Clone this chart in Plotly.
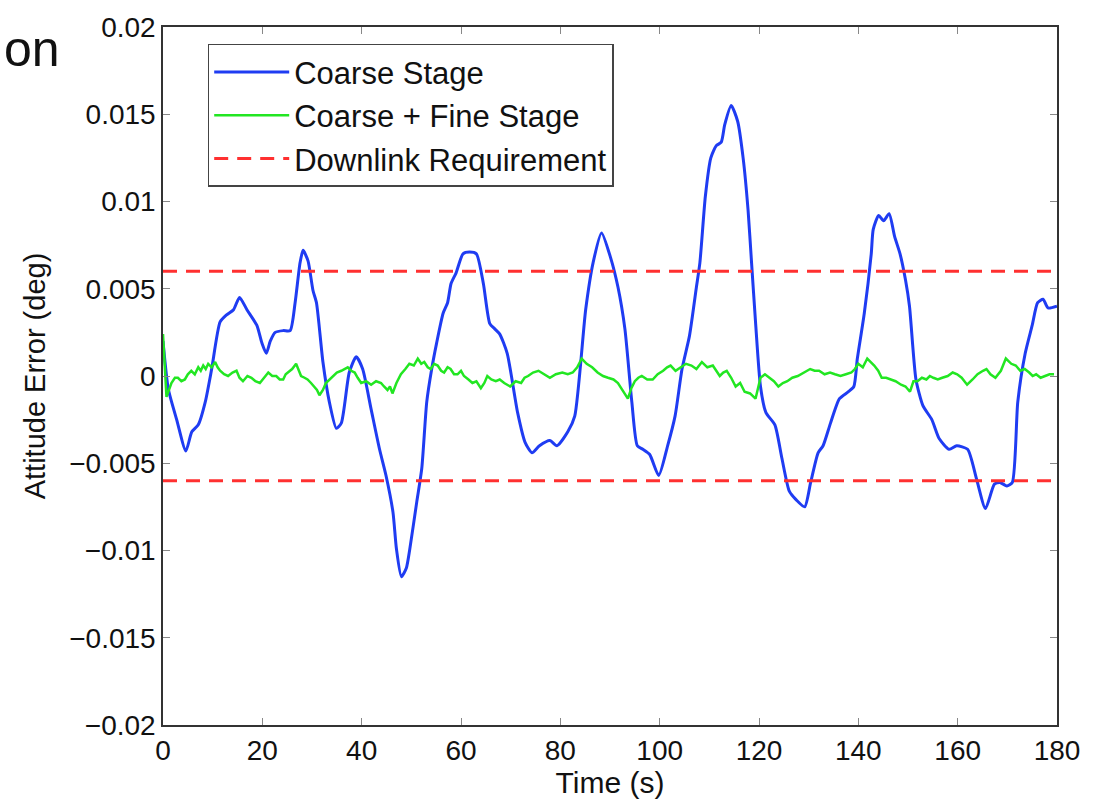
import plotly.graph_objects as go

# ---- data ----
coarse_t = [0, 1.07, 2.75, 4.6, 5.8, 7.1, 8.5, 9.8, 11.5, 12.8, 14.2, 15.4, 16.9, 18.9, 19.9,
            20.8, 21.6, 22.6, 24.2, 25.6, 26.6, 27.6, 28.2, 29.2, 30.2, 30.9, 32.2, 33.5, 34.9,
            35.9, 37.5, 38.9, 40.2, 41.9, 43.6, 44.9, 46.3, 47.0, 48.0, 49.0, 49.7, 51.1, 52.1,
            53.1, 54.1, 55.1, 56.4, 57.3, 58.0, 59.0, 60.4, 61.7, 63.1, 64.5, 65.8, 66.8, 67.8,
            69.3, 71.4, 72.9, 74.3, 75.8, 77.9, 79.3, 81.5, 82.9, 85.1, 86.6, 88.3, 90.1, 91.6,
            93.0, 94.4, 95.5, 96.6, 98.0, 99.8, 101.6, 103.1, 104.5, 106.0, 107.4, 108.1, 109.2,
            110.3, 111.4, 112.4, 113.1, 114.4, 115.7, 116.8, 117.8, 118.5, 119.3, 120.3, 121.4,
            123.2, 124.6, 126.1, 127.5, 129.2, 130.4, 131.9, 132.9, 134.4, 136.2, 138.0, 139.1,
            139.8, 141.2, 142.6, 143.0, 144.1, 145.1, 146.2, 147.3, 148.4, 149.5, 150.3, 151.6,
            153.0, 154.8, 156.3, 158.3, 159.8, 162.0, 163.8, 165.6, 167.4, 168.5, 169.9, 171.0,
            172.1, 173.6, 175.0, 176.1, 177.2, 178.2, 180]
coarse_err = [0.0020, -0.00075, -0.0025, -0.0043, -0.0032, -0.0028, -0.0015, 0.0004, 0.0031, 0.0035,
              0.0038, 0.0045, 0.0038, 0.0029, 0.0019, 0.0013, 0.0020, 0.0025, 0.0026, 0.0026,
              0.0042, 0.0065, 0.0072, 0.0066, 0.0049, 0.0042, 0.0008, -0.0015, -0.0030, -0.0027,
              0.0002, 0.0011, 0.0004, -0.0019, -0.0042, -0.0057, -0.0078, -0.0099, -0.0115,
              -0.0110, -0.0099, -0.0072, -0.0053, -0.0015, 0.0004, 0.0019, 0.0036, 0.0042, 0.0053,
              0.0059, 0.0070, 0.0071, 0.0070, 0.0053, 0.0030, 0.0027, 0.0024, 0.0013, -0.0021,
              -0.0038, -0.0044, -0.0040, -0.0037, -0.0040, -0.0032, -0.0023, 0.0038, 0.0065,
              0.0082, 0.0068, 0.0051, 0.0027, -0.0015, -0.0040, -0.0042, -0.0045, -0.0057,
              -0.0040, -0.0023, 0.0004, 0.0023, 0.0051, 0.0065, 0.0103, 0.0125, 0.0132, 0.0134,
              0.0144, 0.0155, 0.0146, 0.0125, 0.0095, 0.0065, 0.0031, -0.0006, -0.0021, -0.0028,
              -0.0047, -0.0066, -0.0071, -0.0075, -0.0061, -0.0044, -0.0040, -0.0027, -0.0013,
              -0.0009, -0.0006, 0.0010, 0.0036, 0.0070, 0.0084, 0.0092, 0.0089, 0.0093, 0.0080,
              0.0070, 0.0055, 0.0040, -0.0002, -0.0017, -0.0025, -0.0036, -0.0042, -0.0040,
              -0.0042, -0.0059, -0.0076, -0.0062, -0.0061, -0.0063, -0.0061, -0.0015, 0.0013,
              0.0029, 0.0042, 0.0044, 0.0039, 0.0040]

fine_t = [0, 0.7, 1.7, 2.4, 3.0, 3.7, 4.4, 5.0, 5.7, 6.4, 7.1, 7.6, 8.1, 8.6, 9.1, 9.8, 10.5, 11.0,
          11.5, 12.3, 13.1, 14.0, 14.8, 15.4, 16.1, 17.0, 17.8, 18.6, 19.5, 20.3, 21.2, 22.0, 22.8,
          23.5, 24.2, 24.7, 25.2, 26.0, 26.8, 27.3, 27.8, 28.5, 29.1, 29.8, 30.5, 31.0, 31.5, 32.2,
          32.8, 33.5, 34.2, 35.0, 35.9, 36.5, 37.2, 37.9, 38.6, 39.2, 39.9, 40.9, 41.9, 42.9, 43.9,
          44.5, 45.2, 45.7, 46.2, 47.0, 47.9, 48.8, 49.6, 50.5, 51.3, 52.0, 52.6, 53.3, 53.9, 54.6,
          55.3, 56.0, 56.6, 57.3, 57.9, 58.6, 59.3, 60.0, 60.6, 61.5, 62.3, 63.1, 64.0, 64.7, 65.3,
          66.1, 67.0, 67.8, 68.7, 69.9, 71.0, 72.1, 72.8, 73.5, 74.5, 75.6, 76.8, 77.9, 79.1, 80.4,
          81.5, 82.5, 83.4, 84.3, 85.3, 86.4, 87.5, 88.6, 89.6, 90.7, 91.6, 92.5, 93.6, 94.3, 95.0,
          95.7, 96.4, 97.5, 98.6, 99.6, 100.7, 101.5, 102.2, 103.2, 104.3, 105.3, 106.4, 107.4,
          108.5, 109.6, 110.7, 111.4, 112.1, 112.8, 113.5, 114.4, 115.3, 116.2, 117.1, 118.2,
          119.3, 120.3, 121.2, 122.1, 123.0, 123.9, 124.8, 125.7, 126.7, 127.8, 129.0, 130.3,
          131.2, 132.1, 133.2, 134.3, 135.3, 136.4, 137.5, 138.6, 139.3, 140.0, 140.9, 141.8,
          142.5, 143.2, 144.0, 144.7, 145.6, 146.5, 147.5, 148.6, 149.5, 150.4, 151.1, 151.9,
          152.8, 153.7, 154.4, 155.1, 156.0, 156.9, 158.0, 159.0, 159.9, 160.8, 161.9, 163.0,
          164.0, 165.1, 165.8, 166.6, 167.6, 168.7, 169.7, 170.8, 171.7, 172.6, 173.5, 174.4,
          175.1, 175.8, 176.7, 177.6, 178.5, 179.4, 180]
fine_err = [0.0024, -0.0012, -0.0004, -0.0001, -0.0001, -0.0003, -0.0002, 0.0001, 0.0003, 0.0001,
            0.0005, 0.0003, 0.0006, 0.0004, 0.0007, 0.0005, 0.0008, 0.0005, 0.0003, 0.0001, 0.0000,
            0.0002, 0.0003, -0.0001, -0.0003, 0.0000, -0.0001, -0.0003, -0.0004, -0.0001, 0.0002,
            0.0000, 0.0000, -0.0002, -0.0002, 0.0001, 0.0002, 0.0004, 0.0007, 0.0003, 0.0000,
            -0.0001, -0.0002, -0.0004, -0.0006, -0.0008, -0.0011, -0.0008, -0.0004, -0.0002, 0.0000,
            0.0002, 0.0003, 0.0004, 0.0005, 0.0003, 0.0002, -0.0001, -0.0004, -0.0003, -0.0005,
            -0.0003, -0.0004, -0.0006, -0.0008, -0.0006, -0.0010, -0.0004, 0.0001, 0.0004, 0.0007,
            0.0006, 0.0010, 0.0007, 0.0008, 0.0005, 0.0004, 0.0007, 0.0006, 0.0003, 0.0002, 0.0005,
            0.0004, 0.0001, 0.0001, 0.0003, 0.0000, -0.0002, -0.0004, -0.0003, -0.0007, -0.0004,
            0.0000, -0.0002, -0.0003, -0.0002, -0.0004, -0.0006, -0.0003, -0.0004, -0.0001, 0.0000,
            0.0002, 0.0003, 0.0001, -0.0001, 0.0001, 0.0002, 0.0001, 0.0002, 0.0005, 0.0010, 0.0007,
            0.0005, 0.0002, 0.0000, -0.0001, -0.0002, -0.0004, -0.0008, -0.0013, -0.0007, -0.0003,
            -0.0001, 0.0000, -0.0002, -0.0002, 0.0001, 0.0003, 0.0005, 0.0006, 0.0003, 0.0005,
            0.0007, 0.0006, 0.0004, 0.0008, 0.0005, 0.0006, 0.0003, 0.0000, 0.0002, 0.0003, -0.0001,
            -0.0006, -0.0004, -0.0009, -0.0010, -0.0013, -0.0001, 0.0001, -0.0001, -0.0003, -0.0006,
            -0.0004, -0.0003, -0.0001, 0.0000, 0.0002, 0.0004, 0.0003, 0.0003, 0.0001, 0.0002, 0.0001,
            0.0000, 0.0001, 0.0002, 0.0004, 0.0007, 0.0005, 0.0010, 0.0008, 0.0006, 0.0003, -0.0001,
            -0.0001, -0.0002, -0.0003, -0.0005, -0.0006, -0.0009, -0.0003, -0.0003, -0.0001, -0.0002,
            0.0000, -0.0001, -0.0002, -0.0001, 0.0000, 0.0002, 0.0001, -0.0001, -0.0005, -0.0002,
            0.0001, 0.0003, 0.0004, 0.0001, -0.0001, 0.0003, 0.0010, 0.0007, 0.0006, 0.0003, 0.0004,
            0.0002, 0.0000, 0.0001, -0.0001, 0.0000, 0.0001, 0.0001]

req_t = [0, 180]
req_level = 0.006

y_ticks = [0.02, 0.015, 0.01, 0.005, 0, -0.005, -0.01, -0.015, -0.02]
y_tick_text = ["0.02", "0.015", "0.01", "0.005", "0", "\u22120.005", "\u22120.01", "\u22120.015", "\u22120.02"]
x_ticks = [0, 20, 40, 60, 80, 100, 120, 140, 160, 180]

FONT = "Liberation Sans, Arial, sans-serif"

fig = go.Figure()
fig.add_trace(go.Scatter(x=coarse_t, y=coarse_err, mode="lines", name="Coarse Stage",
                         line=dict(color="#1f3cf2", width=3, shape="spline", smoothing=0.6)))
fig.add_trace(go.Scatter(x=fine_t, y=fine_err, mode="lines", name="Coarse + Fine Stage",
                         line=dict(color="#22e622", width=2.5)))
fig.add_trace(go.Scatter(x=req_t, y=[req_level, req_level], mode="lines", name="Downlink Requirement",
                         line=dict(color="#ff3030", width=3, dash="14px,9px")))
fig.add_trace(go.Scatter(x=req_t, y=[-req_level, -req_level], mode="lines", showlegend=False,
                         line=dict(color="#ff3030", width=3, dash="14px,9px")))

axis_common = dict(showline=True, linecolor="#333", linewidth=1.5, mirror="ticks", ticks="inside",
                   ticklen=7, tickcolor="#888", tickwidth=1, showgrid=False, zeroline=False,
                   tickfont=dict(family=FONT, size=28, color="#111"))

fig.update_xaxes(range=[0, 180], tickvals=x_ticks, ticktext=[str(v) for v in x_ticks],
                 title=dict(text="Time (s)", font=dict(family=FONT, size=30, color="#111"), standoff=0),
                 **axis_common)
fig.update_yaxes(range=[-0.02, 0.02], tickvals=y_ticks, ticktext=y_tick_text,
                 title=dict(text="Attitude Error (deg)", font=dict(family=FONT, size=29, color="#111"), standoff=15),
                 **axis_common)

fig.update_layout(
    width=1102, height=801,
    margin=dict(l=163, r=45, t=22, b=76),
    paper_bgcolor="white", plot_bgcolor="white",
    font=dict(family=FONT, color="#111"),
    legend=dict(x=0.05, y=0.976, xanchor="left", yanchor="top",
                bgcolor="white", bordercolor="#444", borderwidth=1.5,
                font=dict(family=FONT, size=31, color="#111"), itemwidth=75,
                tracegroupgap=0),
    annotations=[dict(text="on", xref="paper", yref="paper", x=(2 - 163) / 894, y=1.012,
                      xanchor="left", yanchor="top", showarrow=False,
                      font=dict(family="Liberation Sans Narrow, Liberation Sans, Arial", size=50, color="#111"))],
)

fig.write_html("out.html")
